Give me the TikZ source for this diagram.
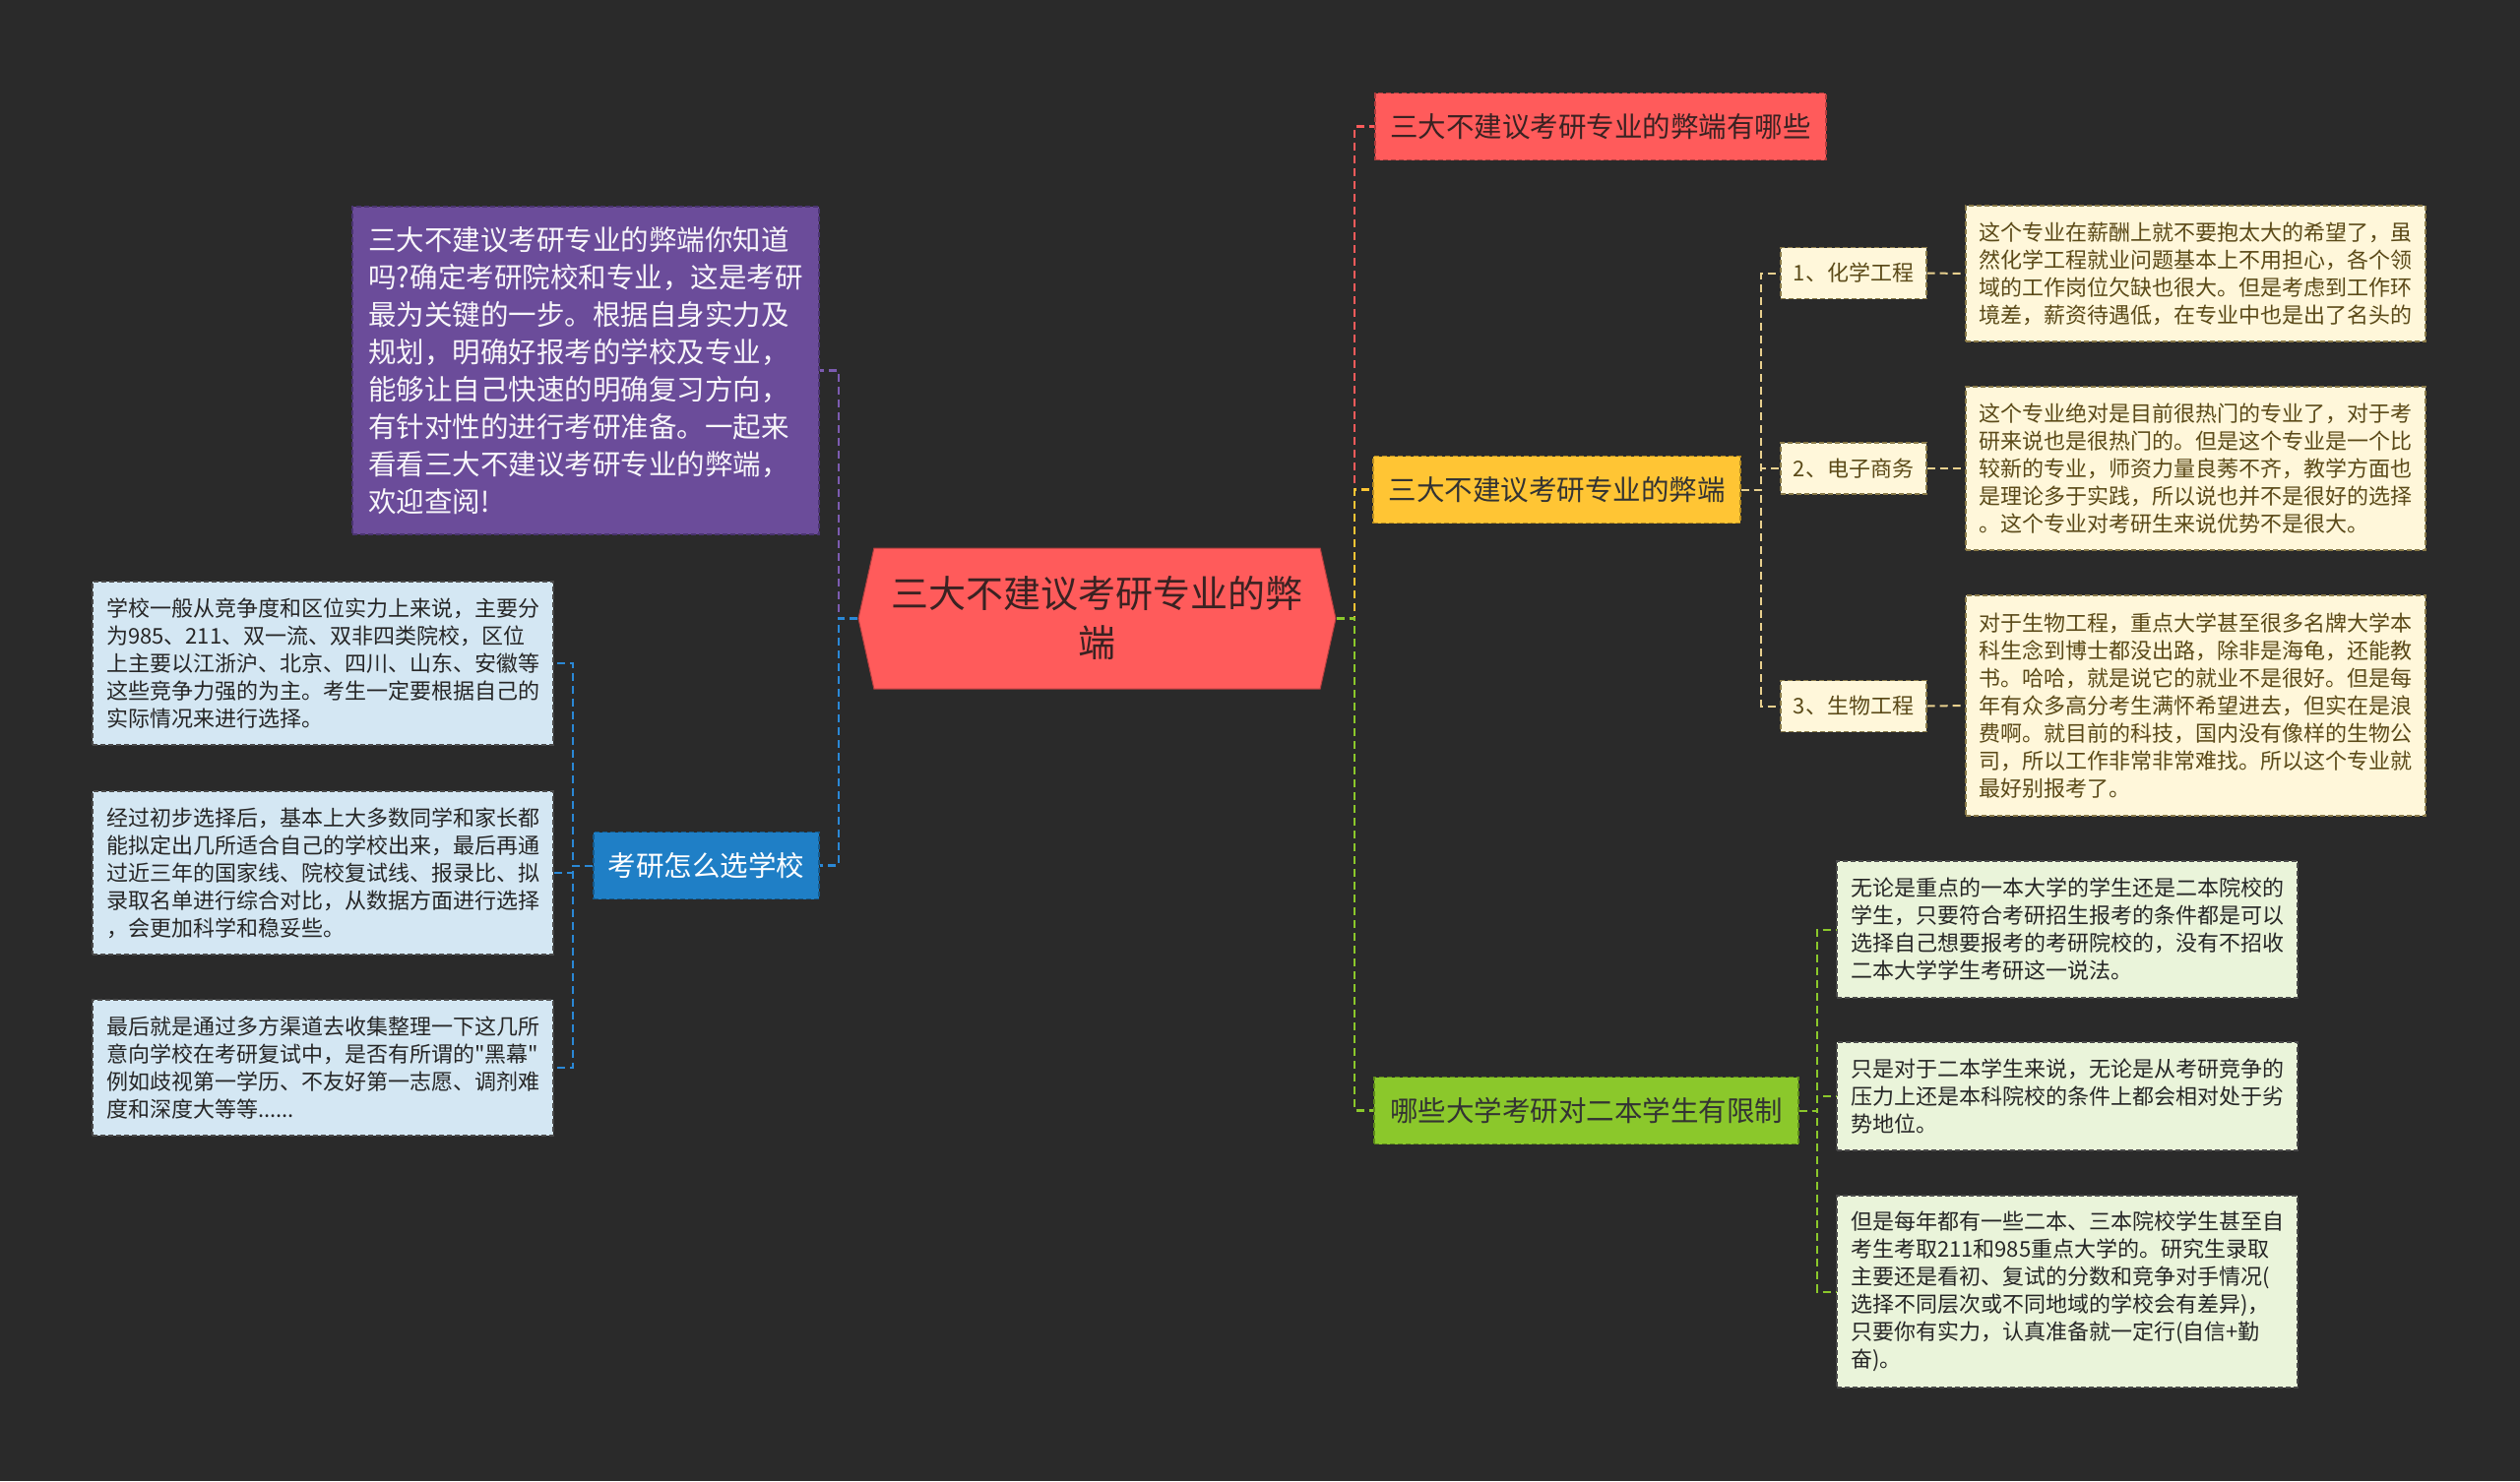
\documentclass[tikz,border=0pt]{standalone}
\usepackage{fontspec}
\setmainfont{Noto Sans CJK SC}[Ligatures=TeXOff]
\usetikzlibrary{shapes.symbols}
\definecolor{fondo}{HTML}{2A2A2A}
\definecolor{rojo}{HTML}{FF5B5B}
\definecolor{rojoosc}{HTML}{B03E3E}
\definecolor{tinta}{HTML}{3A2222}
\definecolor{violeta}{HTML}{6B4C9A}
\definecolor{violetaosc}{HTML}{4A3470}
\definecolor{lineavioleta}{HTML}{7C5BB0}
\definecolor{azul}{HTML}{1F7FC6}
\definecolor{azulosc}{HTML}{155A8C}
\definecolor{lineaazul}{HTML}{2A88D6}
\definecolor{celeste}{HTML}{D4E7F3}
\definecolor{amarillo}{HTML}{FFC534}
\definecolor{amarilloosc}{HTML}{B88C20}
\definecolor{crema}{HTML}{FFF7DA}
\definecolor{cremaosc}{HTML}{8A7A48}
\definecolor{lineacrema}{HTML}{E8D08E}
\definecolor{marron}{HTML}{5B4A18}
\definecolor{verde}{HTML}{8BC82B}
\definecolor{verdeosc}{HTML}{5C8A1A}
\definecolor{verdeclaro}{HTML}{EAF4DA}
\definecolor{gris}{HTML}{4A4A4A}

\begin{document}
\begin{tikzpicture}[x=1pt,y=-1pt,
    lnk/.style={line width=2.4pt,dash pattern=on 8pt off 5pt},
    box/.style={rectangle,line width=1.2pt,dash pattern=on 5pt off 3pt,inner sep=0pt,align=left},
    topic/.style={box,minimum height=68pt,font=\fontsize{28.5}{38}\selectfont},
    leaf/.style={box,minimum width=468pt,font=\fontsize{22}{28}\selectfont},
    sub/.style={box,fill=crema,draw=cremaosc,text=marron,minimum width=148pt,minimum height=52pt,font=\fontsize{22}{28}\selectfont}]
  \fill[fondo] (0,0) rectangle (2560,1505);
  \useasboundingbox (0,0) rectangle (2560,1505);

  % centro
  \node[signal,signal to=west and east,signal pointer angle=155,fill=rojo,draw=rojoosc,line width=1pt,
    minimum width=485pt,minimum height=143pt,inner sep=0pt,align=center,text=tinta,
    font=\fontsize{38}{50}\selectfont] (root) at (1114.5,628.5) {三大不建议考研专业的弊\\端};

  % izquierda
  \node[box,fill=violeta,draw=violetaosc,text=white!95!violeta,minimum width=474pt,minimum height=333pt,
    font=\fontsize{28.5}{38}\selectfont] (intro) at (595,376.5)
    {三大不建议考研专业的弊端你知道\\吗?确定考研院校和专业，这是考研\\最为关键的一步。根据自身实力及\\规划，明确好报考的学校及专业，\\能够让自己快速的明确复习方向，\\有针对性的进行考研准备。一起来\\看看三大不建议考研专业的弊端，\\欢迎查阅!};
  \node[topic,fill=azul,draw=azulosc,text=white,minimum width=229pt] (elegir) at (717.5,879.5) {考研怎么选学校};
  \node[leaf,fill=celeste,draw=gris,text=black!85,minimum height=166pt] (b1) at (328,674)
    {学校一般从竞争度和区位实力上来说，主要分\\为985、211、双一流、双非四类院校，区位\\上主要以江浙沪、北京、四川、山东、安徽等\\这些竞争力强的为主。考生一定要根据自己的\\实际情况来进行选择。};
  \node[leaf,fill=celeste,draw=gris,text=black!85,minimum height=166pt] (b2) at (328,887)
    {经过初步选择后，基本上大多数同学和家长都\\能拟定出几所适合自己的学校出来，最后再通\\过近三年的国家线、院校复试线、报录比、拟\\录取名单进行综合对比，从数据方面进行选择\\，会更加科学和稳妥些。};
  \node[leaf,fill=celeste,draw=gris,text=black!85,minimum height=138pt] (b3) at (328,1085)
    {最后就是通过多方渠道去收集整理一下这几所\\意向学校在考研复试中，是否有所谓的"黑幕"\\例如歧视第一学历、不友好第一志愿、调剂难\\度和深度大等等......};

  % derecha
  \node[topic,fill=rojo,draw=rojoosc,text=tinta,minimum width=458pt] (cuales) at (1626,128.5) {三大不建议考研专业的弊端有哪些};
  \node[topic,fill=amarillo,draw=amarilloosc,text=black!80,minimum width=373pt] (mayores) at (1581.5,497.5) {三大不建议考研专业的弊端};
  \node[topic,fill=verde,draw=verdeosc,text=black!80,minimum width=431pt] (limite) at (1611.5,1128.5) {哪些大学考研对二本学生有限制};

  \node[sub] (m1) at (1883,277.5) {1、化学工程};
  \node[sub] (m2) at (1883,476) {2、电子商务};
  \node[sub] (m3) at (1883,717.5) {3、生物工程};
  \node[leaf,fill=crema,draw=cremaosc,text=marron,minimum width=467pt,minimum height=138pt] (d1) at (2230.5,278)
    {这个专业在薪酬上就不要抱太大的希望了，虽\\然化学工程就业问题基本上不用担心，各个领\\域的工作岗位欠缺也很大。但是考虑到工作环\\境差，薪资待遇低，在专业中也是出了名头的};
  \node[leaf,fill=crema,draw=cremaosc,text=marron,minimum width=467pt,minimum height=166pt] (d2) at (2230.5,476)
    {这个专业绝对是目前很热门的专业了，对于考\\研来说也是很热门的。但是这个专业是一个比\\较新的专业，师资力量良莠不齐，教学方面也\\是理论多于实践，所以说也并不是很好的选择\\。这个专业对考研生来说优势不是很大。};
  \node[leaf,fill=crema,draw=cremaosc,text=marron,minimum width=467pt,minimum height=224pt] (d3) at (2230.5,717)
    {对于生物工程，重点大学甚至很多名牌大学本\\科生念到博士都没出路，除非是海龟，还能教\\书。哈哈，就是说它的就业不是很好。但是每\\年有众多高分考生满怀希望进去，但实在是浪\\费啊。就目前的科技，国内没有像样的生物公\\司，所以工作非常非常难找。所以这个专业就\\最好别报考了。};

  \node[leaf,fill=verdeclaro,draw=gris,text=black!85,minimum height=139pt] (g1) at (2100,944.5)
    {无论是重点的一本大学的学生还是二本院校的\\学生，只要符合考研招生报考的条件都是可以\\选择自己想要报考的考研院校的，没有不招收\\二本大学学生考研这一说法。};
  \node[leaf,fill=verdeclaro,draw=gris,text=black!85,minimum height=110pt] (g2) at (2100,1114)
    {只是对于二本学生来说，无论是从考研竞争的\\压力上还是本科院校的条件上都会相对处于劣\\势地位。};
  \node[leaf,fill=verdeclaro,draw=gris,text=black!85,minimum height=195pt] (g3) at (2100,1312.5)
    {但是每年都有一些二本、三本院校学生甚至自\\考生考取211和985重点大学的。研究生录取\\主要还是看初、复试的分数和竞争对手情况(\\选择不同层次或不同地域的学校会有差异)，\\只要你有实力，认真准备就一定行(自信+勤\\奋)。};

  % ramas
  \coordinate (lj) at (852,628.5);
  \coordinate (rj) at (1376,628.5);
  \coordinate (bj) at (582,879.5);
  \coordinate (yj) at (1789,497.5);
  \coordinate (gj) at (1846,1128.5);
  \draw[lnk,lineavioleta] (root.west) -- (lj) |- (intro.east);
  \draw[lnk,lineaazul] (root.west) -- (lj) |- (elegir.east);
  \draw[lnk,rojo] (root.east) -- (rj) |- (cuales.west);
  \draw[lnk,amarillo] (root.east) -- (rj) |- (mayores.west);
  \draw[lnk,verde] (root.east) -- (rj) |- (limite.west);
  \foreach \n in {b1,b2,b3}
    \draw[lnk,lineaazul,line width=2pt] (elegir.west) -- (bj) |- (\n.east);
  \foreach \n in {m1,m2,m3}
    \draw[lnk,lineacrema,line width=2pt] (mayores.east) -- (yj) |- (\n.west);
  \foreach \n/\d in {m1/d1,m2/d2,m3/d3}
    \draw[lnk,lineacrema,line width=2pt] (\n.east) -- (\d.west);
  \foreach \n in {g1,g2,g3}
    \draw[lnk,verde,line width=2pt] (limite.east) -- (gj) |- (\n.west);
\end{tikzpicture}
\end{document}
